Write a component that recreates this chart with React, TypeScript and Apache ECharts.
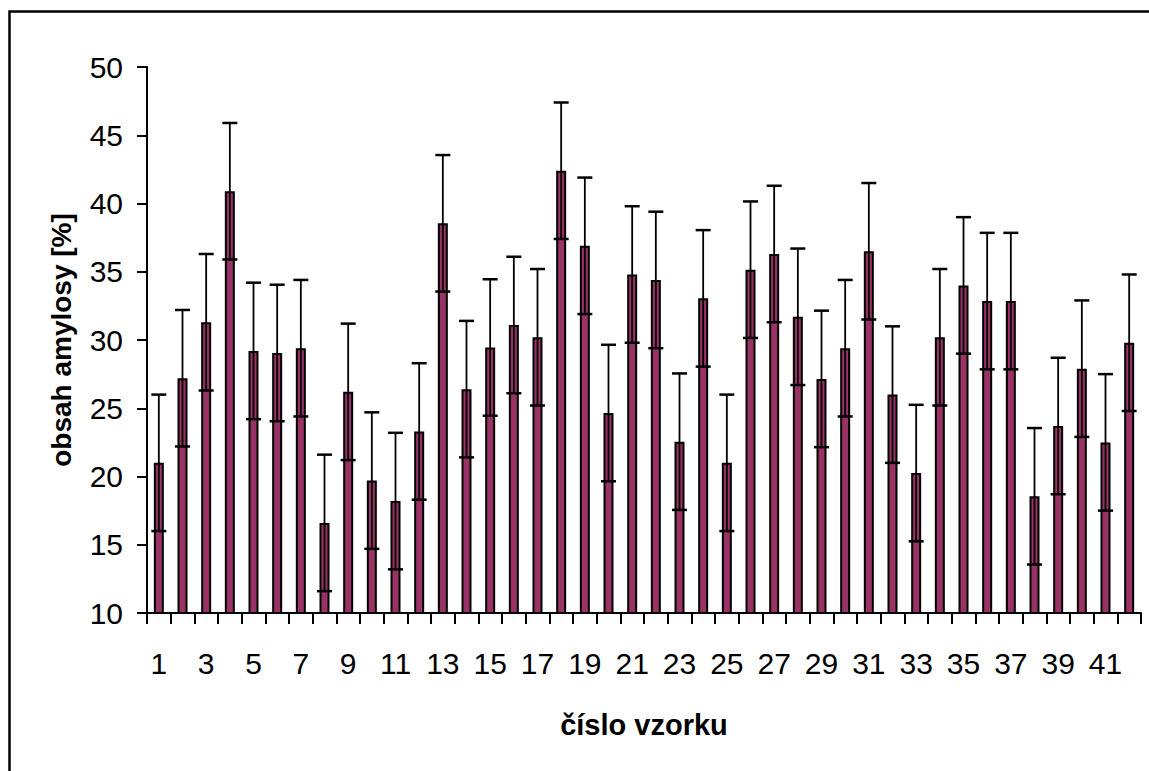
import React, { useEffect, useRef } from "react";
import * as echarts from "echarts";

const categories: string[] = [
  "1", "2", "3", "4", "5", "6", "7", "8", "9", "10",
  "11", "12", "13", "14", "15", "16", "17", "18", "19", "20",
  "21", "22", "23", "24", "25", "26", "27", "28", "29", "30",
  "31", "32", "33", "34", "35", "36", "37", "38", "39", "40",
  "41", "42",
];

const amylose: number[] = [
  21.0, 27.2, 31.3, 40.9, 29.2, 29.05, 29.4, 16.6, 26.2, 19.7,
  18.2, 23.3, 38.55, 26.4, 29.45, 31.1, 30.2, 42.4, 36.9, 24.65,
  34.8, 34.4, 22.55, 33.05, 21.0, 35.15, 36.3, 31.7, 27.15, 29.4,
  36.5, 26.0, 20.25, 30.2, 34.0, 32.85, 32.85, 18.55, 23.7, 27.9,
  22.5, 29.8,
];

const errors: number[] = [
  5, 5, 5, 5, 5, 5, 5, 5, 5, 5,
  5, 5, 5, 5, 5, 5, 5, 5, 5, 5,
  5, 5, 5, 5, 5, 5, 5, 5, 5, 5,
  5, 5, 5, 5, 5, 5, 5, 5, 5, 5,
  5, 5,
];

const yTicks = { min: 10, max: 50, interval: 5 };
const xTitle = "číslo vzorku";
const yTitle = "obsah amylosy [%]";

const FONT = "'Liberation Sans', Arial, sans-serif";

export default function App() {
  const ref = useRef<HTMLDivElement>(null);

  useEffect(() => {
    if (!ref.current) return;
    const chart = echarts.init(ref.current, null, { renderer: "svg" });

    const errData = amylose.map((v, i) => [i, v - errors[i], v + errors[i]]);

    chart.setOption({
      animation: false,
      backgroundColor: "#ffffff",
      grid: { left: 147, right: 8, top: 67, bottom: 158, containLabel: false },
      graphic: [
        {
          type: "rect",
          shape: { x: 9.5, y: 11.5, width: 1300, height: 900 },
          style: { fill: "none", stroke: "#000", lineWidth: 2.5 },
          silent: true,
          z: 100,
        },
      ],
      xAxis: {
        type: "category",
        data: categories,
        boundaryGap: true,
        name: xTitle,
        nameLocation: "middle",
        nameGap: 97,
        nameTextStyle: { fontFamily: FONT, fontSize: 29, fontWeight: "bold", color: "#000" },
        axisLine: { lineStyle: { color: "#000", width: 2 } },
        axisTick: { show: true, inside: false, length: 11, interval: 0, alignWithLabel: false, lineStyle: { color: "#000", width: 2 } },
        axisLabel: { interval: 1, margin: 35, fontFamily: FONT, fontSize: 30, color: "#000" },
        splitLine: { show: false },
      },
      yAxis: {
        type: "value",
        min: yTicks.min,
        max: yTicks.max,
        interval: yTicks.interval,
        name: yTitle,
        nameLocation: "middle",
        nameGap: 72,
        nameRotate: 90,
        nameTextStyle: { fontFamily: FONT, fontSize: 28, fontWeight: "bold", color: "#000" },
        axisLine: { show: true, lineStyle: { color: "#000", width: 2 } },
        axisTick: { show: true, inside: false, length: 10, lineStyle: { color: "#000", width: 2 } },
        axisLabel: { margin: 24, fontFamily: FONT, fontSize: 30, color: "#000" },
        splitLine: { show: false },
      },
      series: [
        {
          type: "bar",
          data: amylose,
          barWidth: 10,
          itemStyle: { color: "#993366", borderColor: "#000", borderWidth: 2 },
          z: 2,
        },
        {
          type: "custom",
          data: errData,
          z: 3,
          renderItem: (params: any, api: any) => {
            const i = api.value(0);
            const lo = api.coord([i, api.value(1)]);
            const hi = api.coord([i, api.value(2)]);
            const x = lo[0];
            const half = 7.5;
            const style = { stroke: "#000", lineWidth: 2.5 };
            return {
              type: "group",
              children: [
                { type: "line", shape: { x1: x, y1: hi[1], x2: x, y2: lo[1] }, style: { stroke: "#000", lineWidth: 1.8 } },
                { type: "line", shape: { x1: x - half, y1: hi[1], x2: x + half, y2: hi[1] }, style },
                { type: "line", shape: { x1: x - half, y1: lo[1], x2: x + half, y2: lo[1] }, style },
              ],
            };
          },
        },
      ],
    });

    return () => chart.dispose();
  }, []);

  return (
    <div
      ref={ref}
      style={{ position: "absolute", left: 0, top: 0, width: 1149, height: 771 }}
    />
  );
}
